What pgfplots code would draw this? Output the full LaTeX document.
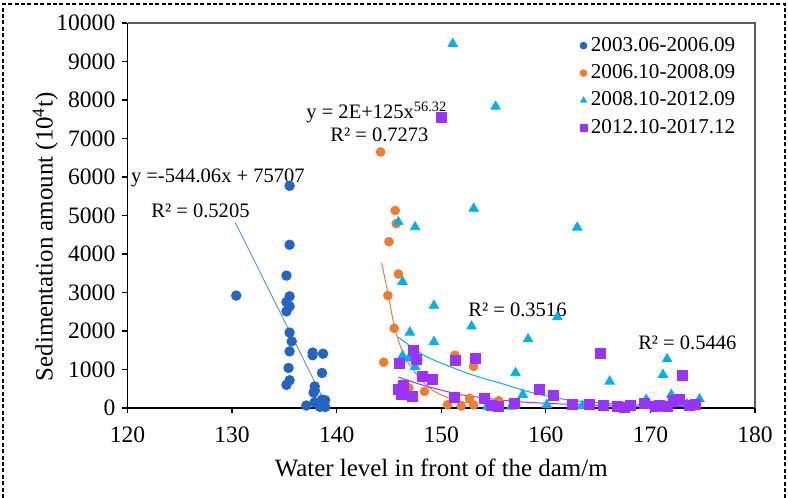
\documentclass[border=0pt]{standalone}
\usepackage{fontspec}
\setmainfont{Liberation Serif}
\usepackage{pgfplots}
\pgfplotsset{compat=1.18}

\definecolor{cblue}{HTML}{2464C3}
\definecolor{corange}{HTML}{ED7D31}
\definecolor{ccyan}{HTML}{00B0F0}
\definecolor{cpurple}{HTML}{9933FF}
\definecolor{tblue}{HTML}{6C95DC}
\definecolor{frame}{HTML}{5A5A5A}

\begin{document}
\begin{tikzpicture}
\begin{axis}[
    name=ax, at={(0,0)}, anchor=south west,
    scale only axis, width=313.75bp, height=192.5bp,
    xmin=120, xmax=180, ymin=0, ymax=10000,
    xtick={120,130,...,180},
    ytick={0,1000,...,10000},
    axis x line*=bottom, axis y line*=left,
    axis line style={black, line width=0.9bp},
    tick align=outside, major tick length=2.6bp,
    tick style={black, line width=0.6bp},
    scaled y ticks=false,
    /pgf/number format/1000 sep={},
    /pgf/number format/assume math mode=true,
    tick label style={font=\fontsize{11.8}{14}\selectfont},
    xticklabel style={yshift=-3.5bp},
    xlabel={Water level in front of the dam/m},
    ylabel={Sedimentation amount (10\textsuperscript{4}t)},
    label style={font=\fontsize{12.5}{15}\selectfont},
    xlabel style={at={(rel axis cs:0.5,-0.155)}, anchor=center},
    ylabel style={at={(rel axis cs:-0.131,0.445)}, anchor=center},
    clip=false,
    legend style={at={(0.985,0.985)}, anchor=north east, draw=none, fill=none,
        font=\fontsize{10.6}{12}\selectfont, row sep=1.2bp},
    legend cell align=left,
    legend image code/.code={\draw[#1, mark size=1.7bp] plot coordinates {(0.12cm,0cm)};},
]
% 2003.06-2006.09
\addplot[only marks, mark=*, mark size=2.4bp, color=cblue] coordinates {
(130.4,2920)(135.5,5770)(135.5,4240)(135.2,3440)(135.5,2900)(135.2,2750)
(135.5,2640)(135.2,2510)(135.5,1960)(135.7,1730)(135.5,1470)(137.7,1440)
(137.7,1370)(138.7,1410)(135.4,1040)(138.6,910)(135.5,720)(135.2,600)
(137.9,560)(137.9,460)(137.8,400)(137.1,65)(137.9,150)(138.6,215)
(138.9,200)(138.5,85)(138.7,60)(138.9,25)(138.4,30)(138.8,110)
};
% 2006.10-2008.09
\addplot[only marks, mark=*, mark size=2.2bp, color=corange] coordinates {
(144.2,6650)(145.6,5130)(145.7,4790)(145.0,4320)(145.9,3480)(144.9,2920)
(145.5,2070)(144.5,1190)(151.3,1370)(153.1,1080)(146.9,520)(146.7,475)
(148.4,430)(150.6,85)(151.9,50)(152.7,250)(153.1,80)(154.5,40)
(154.7,90)(155.5,190)
};
% 2008.10-2012.09
\addplot[only marks, mark=triangle*, mark size=2.7bp, color=ccyan] coordinates {
(151.1,9460)(155.2,7830)(153.1,5180)(163.0,4690)(145.9,4830)(147.5,4700)
(146.3,3280)(149.3,2660)(147.0,1960)(152.9,2120)(149.3,1720)(146.3,1360)
(146.9,1290)(147.5,1070)(161.1,2360)(158.3,1790)(157.1,910)(157.8,345)
(166.1,690)(171.6,1270)(171.2,865)(172.0,345)(169.6,215)(174.7,230)
(160.1,85)(156.7,40)(154.4,40)(163.5,60)(168.0,50)(173.5,100)
};
% 2012.10-2017.12
\addplot[only marks, mark=square*, mark size=2.5bp, color=cpurple] coordinates {
(150.0,7540)(147.3,1490)(146.0,1170)(147.6,1250)(151.4,1240)(153.3,1280)
(148.2,820)(149.2,750)(145.9,490)(146.4,600)(146.2,345)(147.2,300)
(151.3,275)(154.1,260)(165.2,1430)(173.1,850)(159.4,490)(160.7,320)
(157.0,130)(162.5,85)(164.2,85)(165.5,60)(166.8,40)(168.1,60)
(169.4,110)(170.5,40)(171.6,40)(172.2,200)(172.8,230)(174.3,85)
(155.5,40)(154.8,60)(170.9,80)(173.7,60)(167.5,20)
};
\legend{2003.06-2006.09, 2006.10-2008.09, 2008.10-2012.09, 2012.10-2017.12}

% trend lines
\addplot[tblue, line width=0.5bp, forget plot] coordinates {(130.3,4820)(139.0,80)};
\addplot[corange, line width=0.5bp, smooth, forget plot] coordinates {
(144.3,3770)(144.9,2990)(145.6,2030)(146.5,1340)(147.8,820)(149.1,475)
(150.7,260)(152.6,130)(153.5,95)};
\addplot[ccyan, line width=0.5bp, smooth, forget plot] coordinates {
(145.9,1840)(148.4,1360)(151.6,995)(153.9,780)(155.6,650)(158.8,390)
(162.0,215)(165.2,130)(168.4,86)(171.5,68)(174.7,60)};
\addplot[cpurple, line width=0.5bp, smooth, forget plot] coordinates {
(145.9,805)(148.4,580)(151.6,360)(153.9,270)(157.0,170)(161.0,110)
(165.0,70)(170.0,45)(174.5,30)};

% trend labels
\tikzset{lbl/.style={anchor=west, inner sep=0pt, font=\fontsize{10.3}{12}\selectfont}}
\node[lbl] at (axis cs:120.3,5980) {y =-544.06x + 75707};
\node[lbl] at (axis cs:122.25,5124) {R² = 0.5205};
\node[lbl] at (axis cs:137.07,7670) {y = 2E+125x\textsuperscript{56.32}};
\node[lbl] at (axis cs:139.36,7098) {R² = 0.7273};
\node[lbl] at (axis cs:152.56,2553) {R² = 0.3516};
\node[lbl] at (axis cs:168.8,1696) {R² = 0.5446};
\end{axis}
\draw[frame, line width=0.8bp] (ax.north west) -- (ax.north east) -- (ax.south east);
\pgfresetboundingbox
\path[use as bounding box] (ax.south west) ++(-63.75bp,-45bp) rectangle ++(394bp,249bp);
\begin{scope}[shift={(ax.south west)}]
\draw[black, line width=0.6bp, dash pattern=on 2bp off 1.2bp]
  (-62.25bp,-45bp) -- (-62.25bp,202bp) -- (328.75bp,202bp) -- (328.75bp,-45bp);
\end{scope}
\end{tikzpicture}
\end{document}
